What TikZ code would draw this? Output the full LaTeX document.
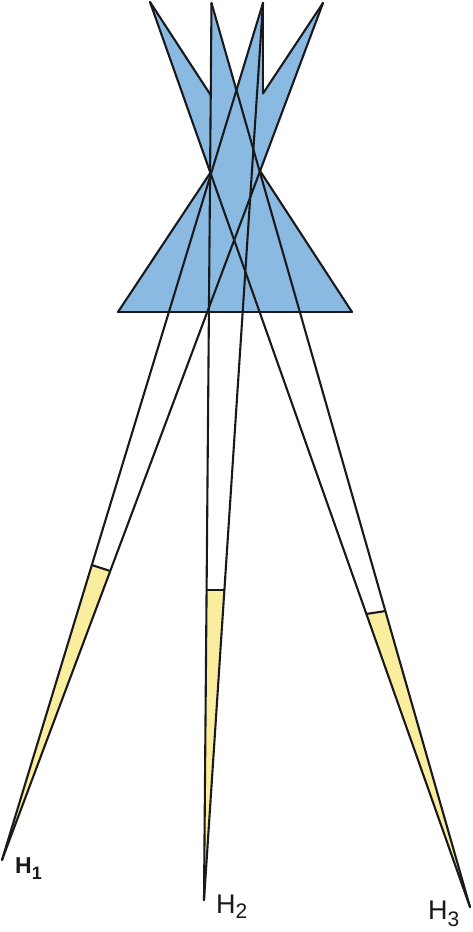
\documentclass[tikz,border=0pt]{standalone}
\usepackage{fontspec}
\setmainfont{Liberation Sans}
\usetikzlibrary{calc}
\definecolor{lensblue}{RGB}{138,186,226}
\definecolor{beamyellow}{RGB}{250,238,158}
\definecolor{ink}{RGB}{25,25,28}
\begin{document}
\begin{tikzpicture}[x=1pt,y=-1pt,
  edge/.style={draw=ink,line width=2.1pt,line cap=round,line join=round},
  lbl/.style={inner sep=0pt,anchor=base west,text=ink}]
\useasboundingbox[fill=white] (0,0) rectangle (472,932);
% tips
\coordinate (T1) at (2,860);
\coordinate (T2) at (204,900);
\coordinate (T3) at (470,907);
% apexes
\coordinate (A1) at (150,2);
\coordinate (A2) at (211.5,3);
\coordinate (A3) at (263,3);
\coordinate (A4) at (323,3);
% base
\coordinate (BL) at (118,312);
\coordinate (BR) at (352,312);
\coordinate (V3) at (263,200);
% derived points
\coordinate (W1) at (intersection of BL--A4 and T3--A1);
\coordinate (W2) at (intersection of BR--A1 and T1--A4);
\coordinate (NL) at (intersection of BR--A1 and T2--A2);
\coordinate (NR) at (intersection of BL--A4 and A3--V3);
\coordinate (X)  at (intersection of T3--A2 and T1--A3);
% yellow limits
\coordinate (C1L) at ($(T1)!0.3442!(A3)$);
\coordinate (C1R) at ($(T1)!0.3372!(A4)$);
\coordinate (C2L) at ($(T2)!0.3456!(A2)$);
\coordinate (C2R) at ($(T2)!0.3456!(A3)$);
\coordinate (C3L) at ($(T3)!0.3238!(A1)$);
\coordinate (C3R) at ($(T3)!0.3274!(A2)$);
% fills
\fill[lensblue] (BL) -- (W1) -- (A1) -- (NL) -- (A2) -- (X) -- (A3) -- (NR)
  -- (A4) -- (W2) -- (BR) -- cycle;
\fill[beamyellow] (T1) -- (C1L) -- (C1R) -- cycle;
\fill[beamyellow] (T2) -- (C2L) -- (C2R) -- cycle;
\fill[beamyellow] (T3) -- (C3L) -- (C3R) -- cycle;
% beam edges
\draw[edge] (T1) -- (A3);
\draw[edge] (T1) -- (A4);
\draw[edge] (T2) -- (A2);
\draw[edge] (T2) -- (A3);
\draw[edge] (T3) -- (A1);
\draw[edge] (T3) -- (A2);
% lens outline
\draw[edge] (BL) -- (BR);
\draw[edge] (BL) -- (W1);
\draw[edge] (BR) -- (W2);
\draw[edge] (NL) -- (A1);
\draw[edge] (NR) -- (A4);
\draw[edge] (A3) -- (NR);
% cross lines
\draw[edge] (C1L) -- (C1R);
\draw[edge] (C2L) -- (C2R);
\draw[edge] (C3L) -- (C3R);
% labels
\node[lbl,font=\bfseries\fontsize{23}{23}\selectfont] (h1) at (15,873) {H\raisebox{-6pt}{\fontsize{18}{18}\selectfont 1}};
\node[lbl,font=\fontsize{27}{27}\selectfont] (h2) at (216,913) {H\raisebox{-5pt}{\fontsize{21}{21}\selectfont 2}};
\node[lbl,font=\fontsize{27}{27}\selectfont] (h3) at (428,919) {H\raisebox{-7pt}{\fontsize{21}{21}\selectfont 3}};
\end{tikzpicture}
\end{document}
